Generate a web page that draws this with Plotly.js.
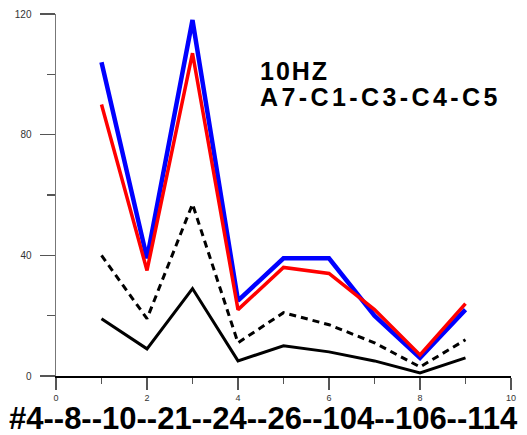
<!DOCTYPE html>
<html>
<head>
<meta charset="utf-8">
<script src="https://cdn.plot.ly/plotly-3.0.1.min.js"></script>
<style>
html,body{margin:0;padding:0;background:#fff;}
#chart{width:527px;height:435px;}
</style>
</head>
<body>
<div id="chart"></div>
<script>
var xValues = [1, 2, 3, 4, 5, 6, 7, 8, 9];
var blueSeries = [104, 39, 118, 25, 39, 39, 20, 6, 22];
var redSeries = [90, 35, 107, 22, 36, 34, 22, 7, 24];
var dashedSeries = [40, 19, 57, 11, 21, 17, 11, 3, 12];
var solidSeries = [19, 9, 29, 5, 10, 8, 5, 1, 6];
var yTickVals = [0, 40, 80, 120];
var xTickVals = [0, 2, 4, 6, 8, 10];
var titleLine1 = "10HZ";
var titleLine2 = "A7-C1-C3-C4-C5";
var xTitle = "#4--8--10--21--24--26--104--106--114";

var traces = [
  {x: xValues, y: solidSeries, mode: 'lines', line: {color: '#000000', width: 3}},
  {x: xValues, y: dashedSeries, mode: 'lines', line: {color: '#000000', width: 3, dash: '7px,5px'}},
  {x: xValues, y: blueSeries, mode: 'lines', line: {color: '#0000ff', width: 4.5}},
  {x: xValues, y: redSeries, mode: 'lines', line: {color: '#ff0000', width: 3.5}}
];

var boldFont = {color: '#000000', family: 'Arial, Liberation Sans, sans-serif', weight: 'bold'};

var layout = {
  width: 527, height: 435,
  margin: {l: 56, r: 16, t: 14, b: 59, pad: 0},
  showlegend: false,
  paper_bgcolor: '#ffffff', plot_bgcolor: '#ffffff',
  font: {family: 'Arial, Liberation Sans, sans-serif', color: '#333333'},
  xaxis: {
    range: [0, 10], showgrid: false, zeroline: false,
    showline: true, linecolor: '#000000', linewidth: 1.5,
    ticks: 'outside', ticklen: 12, tickwidth: 1.5, tickcolor: '#555555',
    tickvals: xTickVals, ticktext: xTickVals.map(String),
    tickfont: {size: 9, color: '#333333'},
    ticklabelstandoff: 1,
    minor: {dtick: 1, tick0: 0, ticks: 'outside', ticklen: 6, tickwidth: 1.5, tickcolor: '#555555', showgrid: false}
  },
  yaxis: {
    range: [0, 120], showgrid: false, zeroline: false,
    showline: true, linecolor: '#777777', linewidth: 1.5,
    ticks: 'outside', ticklen: 15, tickwidth: 1.5, tickcolor: '#555555',
    tickvals: yTickVals, ticktext: yTickVals.map(String),
    tickfont: {size: 10, color: '#333333'},
    ticklabelstandoff: 6,
    minor: {dtick: 20, tick0: 0, ticks: 'outside', ticklen: 8, tickwidth: 1.5, tickcolor: '#555555', showgrid: false}
  },
  annotations: [
    {text: titleLine1, xref: 'paper', yref: 'paper', x: 0.444, y: 0.842, xanchor: 'left', yanchor: 'middle', showarrow: false,
     font: Object.assign({size: 25}, boldFont)},
    {text: titleLine2, xref: 'paper', yref: 'paper', x: 0.444, y: 0.772, xanchor: 'left', yanchor: 'middle', showarrow: false,
     font: Object.assign({size: 25}, boldFont)},
    {text: xTitle, xref: 'paper', yref: 'paper', x: 0.455, y: -0.1176, xanchor: 'center', yanchor: 'middle', showarrow: false,
     font: Object.assign({size: 31}, boldFont)}
  ]
};

function spaceText(el, spacing) {
  if (!el) return;
  var before = el.getBBox().x;
  el.style.letterSpacing = spacing;
  var after = el.getBBox().x;
  var dx = before - after;
  var t = el.getAttribute('transform') || '';
  el.setAttribute('transform', (t + ' translate(' + dx + ',0)').trim());
}

Plotly.newPlot('chart', traces, layout, {displayModeBar: false, staticPlot: true}).then(function () {
  var texts = document.querySelectorAll('.annotation-text');
  spaceText(texts[0], '2px');
  spaceText(texts[1], '3.4px');
});
</script>
</body>
</html>
